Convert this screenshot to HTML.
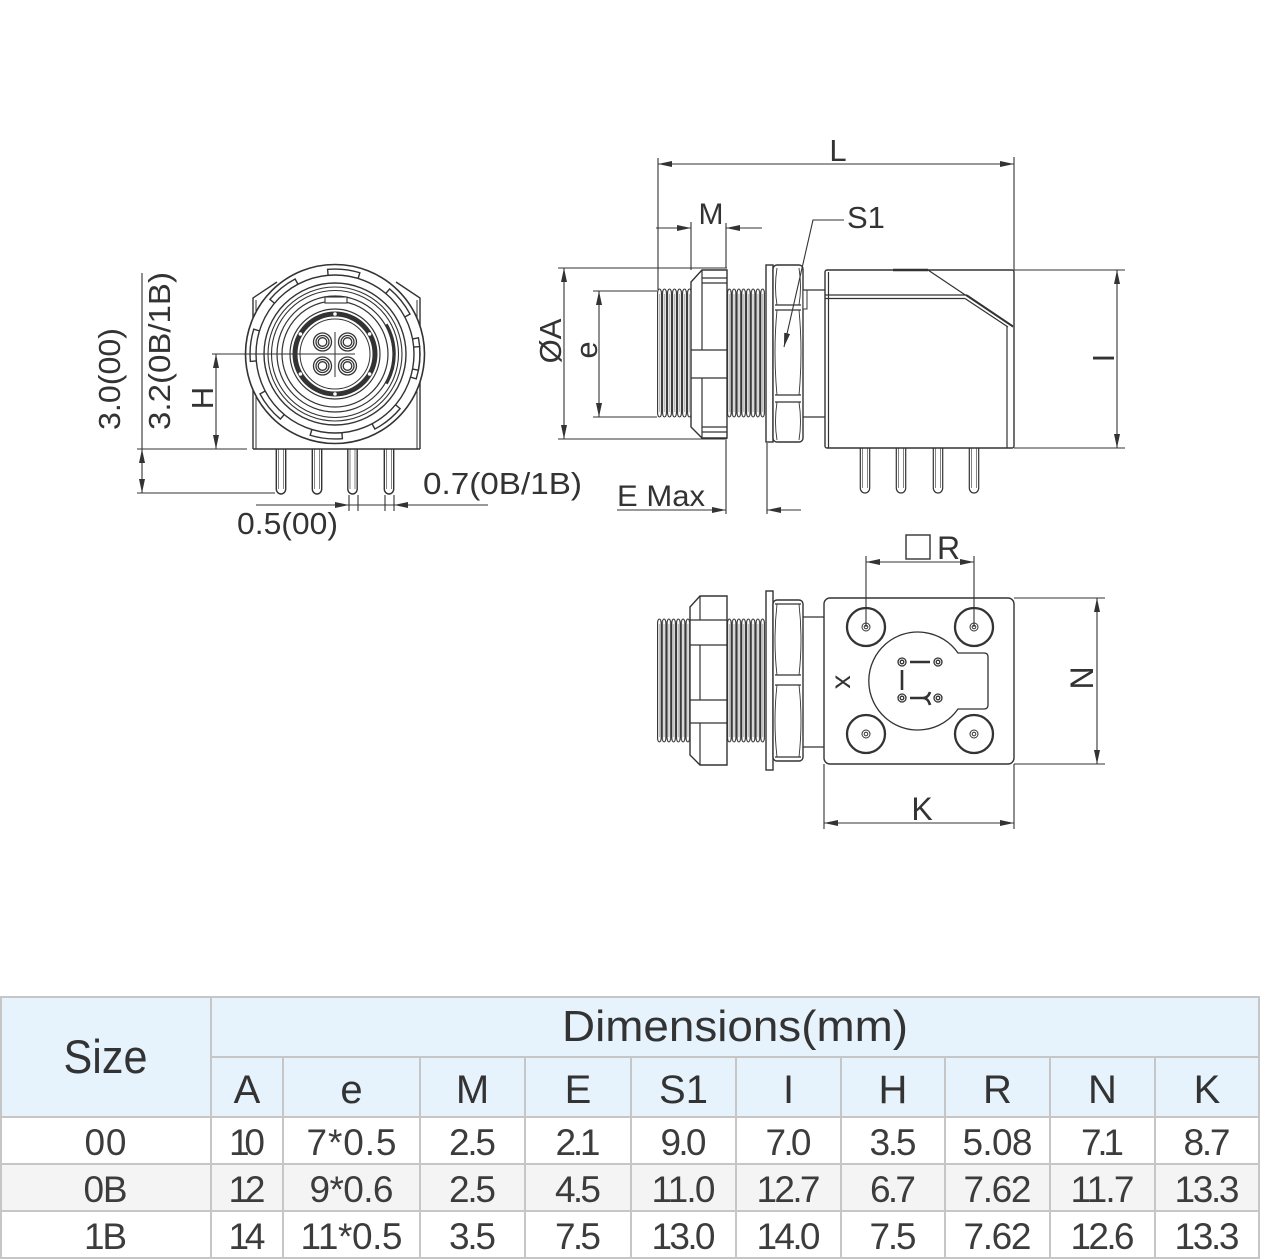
<!DOCTYPE html>
<html><head><meta charset="utf-8"><style>
html,body{margin:0;padding:0;background:#fff;}
svg{display:block;}
.t{font-family:"Liberation Sans",sans-serif;fill:#333;}
</style></head><body>
<svg width="1261" height="1260" viewBox="0 0 1261 1260" xmlns="http://www.w3.org/2000/svg">
<defs>
<marker id="ah" viewBox="0 0 14 6" refX="14" refY="3" markerWidth="14" markerHeight="6" markerUnits="userSpaceOnUse" orient="auto-start-reverse"><path d="M0,0 L14,3 L0,6 z" fill="#333"/></marker>
<pattern id="th1" patternUnits="userSpaceOnUse" x="657" y="288" width="5" height="130"><path d="M0.6,5 A1.9,4 0 0 1 4.4,5 V125 A1.9,4 0 0 1 0.6,125 Z" fill="#fff" stroke="#333" stroke-width="1.1"/><path d="M2.5,6 V124" stroke="#777" stroke-width="0.5"/></pattern>
<pattern id="th2" patternUnits="userSpaceOnUse" x="727" y="288" width="4.75" height="130"><path d="M0.55,5 A1.8,4 0 0 1 4.15,5 V125 A1.8,4 0 0 1 0.55,125 Z" fill="#fff" stroke="#333" stroke-width="1.1"/><path d="M2.35,6 V124" stroke="#777" stroke-width="0.5"/></pattern>
<pattern id="th3" patternUnits="userSpaceOnUse" x="657" y="618" width="4.75" height="125"><path d="M0.55,5 A1.8,4 0 0 1 4.15,5 V120 A1.8,4 0 0 1 0.55,120 Z" fill="#fff" stroke="#333" stroke-width="1.1"/><path d="M2.35,6 V119" stroke="#777" stroke-width="0.5"/></pattern>
<pattern id="th4" patternUnits="userSpaceOnUse" x="727" y="618" width="4.75" height="125"><path d="M0.55,5 A1.8,4 0 0 1 4.15,5 V120 A1.8,4 0 0 1 0.55,120 Z" fill="#fff" stroke="#333" stroke-width="1.1"/><path d="M2.35,6 V119" stroke="#777" stroke-width="0.5"/></pattern>
</defs>

<!-- ================= FRONT VIEW ================= -->
<g fill="none" stroke="#333" stroke-width="1.4">
  <path d="M253,449 V298 L277,282 M420,449 V298 L396,282 M253,449 H420"/>
  <path d="M256,449 V300 M417,449 V300" stroke-width="1"/>
  <path d="M276.3,449 V489 A4.7,5 0 0 0 285.7,489 V449"/>
  <path d="M312.3,449 V489 A4.7,5 0 0 0 321.7,489 V449"/>
  <path d="M347.8,449 V489 A4.7,5 0 0 0 357.2,489 V449"/>
  <path d="M384.3,449 V489 A4.7,5 0 0 0 393.7,489 V449"/>
  <path d="M278.5,449 V489 M283.5,449 V489 M314.5,449 V489 M319.5,449 V489 M350,449 V489 M355,449 V489 M386.5,449 V489 M391.5,449 V489" stroke-width="0.6"/>
</g>
<g transform="translate(335,354)" fill="none" stroke="#333" stroke-width="1.4">
  <circle r="89.5" fill="#fff" stroke-width="1.6"/>
  <circle r="79"/>
  <g id="notch"><path d="M77.5,-15.1 L83.4,-16.2 A85,85 0 0 1 83.4,16.2 L77.5,15.1"/></g>
  <use href="#notch" transform="rotate(6)"/>
  <use href="#notch" transform="rotate(51)"/>
  <use href="#notch" transform="rotate(96)"/>
  <use href="#notch" transform="rotate(141)"/>
  <use href="#notch" transform="rotate(186)"/>
  <use href="#notch" transform="rotate(231)"/>
  <use href="#notch" transform="rotate(276)"/>
  <use href="#notch" transform="rotate(321)"/>
  <circle r="71"/>
  <circle r="67" stroke-width="1.1"/>
  <circle r="63.5" stroke-width="1.1"/>
  <circle r="58" stroke-width="1.2"/>
  <circle r="53" stroke-width="1.2"/>
  <path d="M51.2,-29.6 A59,59 0 0 1 51.2,29.6" stroke-width="3.2"/>
  <rect x="-10" y="-57" width="22" height="6" fill="#fff" stroke-width="1.1"/>
  <circle r="45" stroke-width="1.2"/>
  <circle r="40" stroke-width="5"/>
  <circle r="35" stroke-width="1"/>
  <g fill="#fff" stroke="none">
    <circle cx="0" cy="-40" r="1.8"/><circle cx="34.6" cy="-20" r="1.8"/><circle cx="34.6" cy="20" r="1.8"/>
    <circle cx="0" cy="40" r="1.8"/><circle cx="-34.6" cy="20" r="1.8"/><circle cx="-34.6" cy="-20" r="1.8"/>
  </g>
  <g stroke-width="1.3">
    <circle cx="-12.5" cy="-12" r="9"/><circle cx="-12.5" cy="-12" r="6.5"/><circle cx="-12.5" cy="-12" r="4.3"/>
    <circle cx="12.5" cy="-12" r="9"/><circle cx="12.5" cy="-12" r="6.5"/><circle cx="12.5" cy="-12" r="4.3"/>
    <circle cx="-12.5" cy="12" r="9"/><circle cx="-12.5" cy="12" r="6.5"/><circle cx="-12.5" cy="12" r="4.3"/>
    <circle cx="12.5" cy="12" r="9"/><circle cx="12.5" cy="12" r="6.5"/><circle cx="12.5" cy="12" r="4.3"/>
  </g>
  <path d="M0,-22 V23 M-22,0 H20" stroke-width="1"/>
</g>
<g fill="none" stroke="#333" stroke-width="1.1">
  <path d="M212,354 H313"/>
  <path d="M142,273 V449 M137,449 H247 M137,493 H275"/>
  <line x1="142" y1="449" x2="142" y2="493" marker-start="url(#ah)" marker-end="url(#ah)"/>
  <line x1="216" y1="354" x2="216" y2="449" marker-start="url(#ah)" marker-end="url(#ah)"/>
  <line x1="256" y1="505" x2="349" y2="505" marker-end="url(#ah)"/>
  <line x1="488" y1="505" x2="394" y2="505" marker-end="url(#ah)"/>
  <path d="M349,505 H394 M349,495 V511 M358,495 V511 M385,495 V511 M394,495 V511"/>
</g>
<text class="t" font-size="31" text-anchor="middle" textLength="102" lengthAdjust="spacingAndGlyphs" transform="translate(120,379) rotate(-90)">3.0(00)</text>
<text class="t" font-size="31" text-anchor="middle" textLength="158" lengthAdjust="spacingAndGlyphs" transform="translate(170,351) rotate(-90)">3.2(0B/1B)</text>
<text class="t" font-size="31" text-anchor="middle" transform="translate(213,398) rotate(-90)">H</text>
<text class="t" font-size="31" x="423" y="494" textLength="159" lengthAdjust="spacingAndGlyphs">0.7(0B/1B)</text>
<text class="t" font-size="31" x="237" y="534" textLength="101" lengthAdjust="spacingAndGlyphs">0.5(00)</text>

<!-- ================= SIDE VIEW ================= -->
<rect x="657" y="288" width="35" height="130" fill="url(#th1)"/>
<rect x="727" y="288" width="38" height="130" fill="url(#th2)"/>
<g fill="#fff" stroke="#333" stroke-width="1.4">
  <path d="M702,270 H727 V438 H702 L691,427 V282 Z"/>
  <rect x="766" y="265" width="7" height="177"/>
  <rect x="773" y="265" width="30" height="177" rx="4"/>
  <rect x="803" y="290" width="4" height="19" stroke-width="1"/>
  <rect x="825" y="270" width="189" height="178" rx="2"/>
</g>
<g fill="none" stroke="#333" stroke-width="1.2">
  <path d="M702,270 V350 M702,378 V438 M702,278 H727 M702,283 H727 M691,350 H727 M691,378 H727 M702,427 H727 M702,432 H727"/>
  <path d="M775,305 H801 M775,310 H801 M775,395 H801 M775,402 H801"/>
  <path d="M777,310 Q773,352 777,395 M799,310 Q803,352 799,395 M777,268 Q774,287 777,305 M799,268 Q802,287 799,305 M777,402 Q774,422 777,440 M799,402 Q802,422 799,440" stroke-width="0.9"/>
  <path d="M803,290 H825 M803,417 H825"/>
  <path d="M828.5,272 V448"/>
  <path d="M825,295 H967 M825,298.5 H965 M928,270 L1013,327 M967,295 L1013,326 M965,298.5 L1008,327 M1007,326 V448"/>
  <path d="M893,270 H928" stroke-width="2.6"/>
  <path d="M860.3,448 V488 A4.7,5 0 0 0 869.7,488 V448"/>
  <path d="M896.3,448 V488 A4.7,5 0 0 0 905.7,488 V448"/>
  <path d="M933.3,448 V488 A4.7,5 0 0 0 942.7,488 V448"/>
  <path d="M969.3,448 V488 A4.7,5 0 0 0 978.7,488 V448"/>
  <path d="M862.5,448 V488 M867.5,448 V488 M898.5,448 V488 M903.5,448 V488 M935.5,448 V488 M940.5,448 V488 M971.5,448 V488 M976.5,448 V488" stroke-width="0.6"/>
</g>
<g fill="none" stroke="#333" stroke-width="1.1">
  <line x1="658" y1="164" x2="1014" y2="164" marker-start="url(#ah)" marker-end="url(#ah)"/>
  <path d="M658,158 V290 M1014,157 V270"/>
  <line x1="656" y1="228" x2="691" y2="228" marker-end="url(#ah)"/>
  <line x1="762" y1="228" x2="726" y2="228" marker-end="url(#ah)"/>
  <path d="M691,222 V270 M726,223 V268"/>
  <path d="M844,220 H813 L784,347" marker-end="url(#ah)"/>
  <line x1="564" y1="268" x2="564" y2="439" marker-start="url(#ah)" marker-end="url(#ah)"/>
  <path d="M558,268 H727 M558,439 H727"/>
  <line x1="599" y1="291" x2="599" y2="417" marker-start="url(#ah)" marker-end="url(#ah)"/>
  <path d="M593,291 H657 M593,417 H657"/>
  <line x1="1117" y1="270" x2="1117" y2="448" marker-start="url(#ah)" marker-end="url(#ah)"/>
  <path d="M1014,270 H1125 M1014,448 H1125"/>
  <line x1="617" y1="510" x2="726" y2="510" marker-end="url(#ah)"/>
  <line x1="801" y1="510" x2="767" y2="510" marker-end="url(#ah)"/>
  <path d="M726,440 V514 M767,443 V514"/>
</g>
<text class="t" font-size="31" x="838" y="161" text-anchor="middle">L</text>
<text class="t" font-size="30" x="711" y="224" text-anchor="middle">M</text>
<text class="t" font-size="31" x="847" y="228">S1</text>
<text class="t" font-size="31" text-anchor="middle" transform="translate(561,341) rotate(-90)">ØA</text>
<text class="t" font-size="31" text-anchor="middle" transform="translate(597,350) rotate(-90)">e</text>
<text class="t" font-size="31" text-anchor="middle" transform="translate(1114,358) rotate(-90)">I</text>
<text class="t" font-size="30" x="617" y="506" textLength="88" lengthAdjust="spacingAndGlyphs">E Max</text>

<!-- ================= BOTTOM VIEW ================= -->
<rect x="657" y="618" width="33" height="125" fill="url(#th3)"/>
<rect x="727" y="618" width="38" height="125" fill="url(#th4)"/>
<g fill="#fff" stroke="#333" stroke-width="1.4">
  <path d="M700,596 H727 V765 H700 L690,755 V607 Z"/>
  <rect x="766" y="591" width="7" height="179"/>
  <rect x="773" y="600" width="30" height="161" rx="4"/>
  <rect x="824" y="598" width="190" height="166" rx="6"/>
</g>
<g fill="none" stroke="#333" stroke-width="1.2">
  <path d="M700,596 V620 M690,620 H727 M690,645 H727 M700,645 V700 M690,700 H727 M690,723 H727 M700,723 V765"/>
  <path d="M775,604 H801 M775,675 H801 M775,685 H801 M775,757 H801"/>
  <path d="M777,604 Q773,640 777,675 M799,604 Q803,640 799,675 M777,685 Q773,721 777,757 M799,685 Q803,721 799,757" stroke-width="0.9"/>
  <path d="M803,617 H824 M803,747 H824"/>
  <g stroke-width="2.3">
    <circle cx="866" cy="627" r="19"/><circle cx="974" cy="627" r="19"/>
    <circle cx="866" cy="734" r="19"/><circle cx="974" cy="734" r="19"/>
  </g>
  <g stroke-width="1">
    <circle cx="866" cy="627" r="4"/><circle cx="866" cy="627" r="1.8"/>
    <circle cx="974" cy="627" r="4"/><circle cx="974" cy="627" r="1.8"/>
    <circle cx="866" cy="734" r="4"/><circle cx="866" cy="734" r="1.8"/>
    <circle cx="974" cy="734" r="4"/><circle cx="974" cy="734" r="1.8"/>
  </g>
  <path d="M958,653 H984 Q988,653 988,657 V705 Q988,709 984,709 H958 A49,49 0 1 1 958,653 Z" stroke-width="1.3"/>
  <g stroke-width="1.3">
    <circle cx="902" cy="662" r="4"/><circle cx="902" cy="662" r="1.8"/>
    <circle cx="938" cy="662" r="4"/><circle cx="938" cy="662" r="1.8"/>
    <circle cx="902" cy="698" r="4"/><circle cx="902" cy="698" r="1.8"/>
    <circle cx="938" cy="698" r="4"/><circle cx="938" cy="698" r="1.8"/>
  </g>
  <path d="M910,662 H930 M902,670 V690 M910,698 H923 Q928,698 930,692 M923,698 Q928,698 930,705" stroke-width="2.6"/>
  <g stroke-width="1.1">
    <line x1="866" y1="562" x2="974" y2="562" marker-start="url(#ah)" marker-end="url(#ah)"/>
    <path d="M866,556 V627 M974,556 V627"/>
    <line x1="1097" y1="598" x2="1097" y2="764" marker-start="url(#ah)" marker-end="url(#ah)"/>
    <path d="M1014,598 H1105 M1014,764 H1105"/>
    <line x1="824" y1="823" x2="1014" y2="823" marker-start="url(#ah)" marker-end="url(#ah)"/>
    <path d="M824,764 V829 M1014,764 V829"/>
  </g>
  <rect x="906" y="535" width="24" height="24" stroke-width="1.4"/>
</g>
<text class="t" font-size="32" x="937" y="559">R</text>
<text class="t" font-size="32" text-anchor="middle" transform="translate(1093,678) rotate(-90)">N</text>
<text class="t" font-size="32" x="922" y="820" text-anchor="middle">K</text>
<text class="t" font-size="28" text-anchor="middle" dominant-baseline="central" transform="translate(845,682) rotate(90)">x</text>

<!-- ================= TABLE ================= -->
<rect x="0" y="997" width="1260" height="120" fill="#e6f3fc"/>
<rect x="0" y="1164" width="1260" height="47" fill="#f4f4f4"/>
<g stroke="#c6c6c6" stroke-width="2" fill="none">
  <path d="M0,997 H1260 M211,1057 H1260 M0,1117 H1260 M0,1164 H1260 M0,1211 H1260 M0,1258 H1260"/>
  <path d="M1,997 V1258 M211,997 V1258 M1259,997 V1258"/>
  <path d="M283,1057 V1258 M420,1057 V1258 M525,1057 V1258 M631,1057 V1258 M736,1057 V1258 M841,1057 V1258 M945,1057 V1258 M1050,1057 V1258 M1155,1057 V1258"/>
</g>
<g class="t" text-anchor="middle">
  <text x="105.5" y="1073" font-size="47" textLength="84" lengthAdjust="spacingAndGlyphs">Size</text>
  <text x="735" y="1041" font-size="44" textLength="346" lengthAdjust="spacingAndGlyphs">Dimensions(mm)</text>
  <g font-size="40">
    <text x="247" y="1103">A</text><text x="351.5" y="1103">e</text><text x="472.5" y="1103">M</text>
    <text x="578" y="1103">E</text><text x="683.5" y="1103">S1</text><text x="788.5" y="1103">I</text>
    <text x="893" y="1103">H</text><text x="997.5" y="1103">R</text><text x="1102.5" y="1103">N</text>
    <text x="1207" y="1103">K</text>
  </g>
  <g font-size="37" lengthAdjust="spacingAndGlyphs" style="fill:#3c3c3c">
    <text x="105.5" y="1155" textLength="42">00</text>
    <text x="247" y="1155" textLength="36">10</text>
    <text x="351.5" y="1155" textLength="90">7*0.5</text>
    <text x="472.5" y="1155" textLength="47">2.5</text>
    <text x="578" y="1155" textLength="45">2.1</text>
    <text x="683.5" y="1155" textLength="46">9.0</text>
    <text x="788.5" y="1155" textLength="46">7.0</text>
    <text x="893" y="1155" textLength="47">3.5</text>
    <text x="997.5" y="1155" textLength="70">5.08</text>
    <text x="1102.5" y="1155" textLength="43">7.1</text>
    <text x="1207" y="1155" textLength="47">8.7</text>

    <text x="105.5" y="1202" textLength="44">0B</text>
    <text x="247" y="1202" textLength="37">12</text>
    <text x="351.5" y="1202" textLength="84">9*0.6</text>
    <text x="472.5" y="1202" textLength="47">2.5</text>
    <text x="578" y="1202" textLength="46">4.5</text>
    <text x="683.5" y="1202" textLength="64">11.0</text>
    <text x="788.5" y="1202" textLength="64">12.7</text>
    <text x="893" y="1202" textLength="46">6.7</text>
    <text x="997.5" y="1202" textLength="68">7.62</text>
    <text x="1102.5" y="1202" textLength="64">11.7</text>
    <text x="1207" y="1202" textLength="65">13.3</text>

    <text x="105.5" y="1249" textLength="43">1B</text>
    <text x="247" y="1249" textLength="37">14</text>
    <text x="351.5" y="1249" textLength="102">11*0.5</text>
    <text x="472.5" y="1249" textLength="47">3.5</text>
    <text x="578" y="1249" textLength="46">7.5</text>
    <text x="683.5" y="1249" textLength="64">13.0</text>
    <text x="788.5" y="1249" textLength="64">14.0</text>
    <text x="893" y="1249" textLength="47">7.5</text>
    <text x="997.5" y="1249" textLength="68">7.62</text>
    <text x="1102.5" y="1249" textLength="64">12.6</text>
    <text x="1207" y="1249" textLength="65">13.3</text>
  </g>
</g>
</svg>
</body></html>
